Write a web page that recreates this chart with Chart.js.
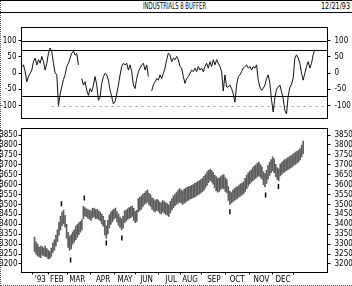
<!DOCTYPE html>
<html>
<head>
<meta charset="utf-8">
<script src="https://cdn.jsdelivr.net/npm/chart.js@4.4.0/dist/chart.umd.min.js"></script>
<style>
html, body { margin: 0; padding: 0; background: #fff; }
#wrap { position: relative; width: 352px; height: 286px; overflow: hidden; }
canvas { position: absolute; left: 0; top: 0; }
#head { position: absolute; left: 0; top: 0; width: 352px; height: 13px; box-sizing: border-box;
        border-top: 1px solid #000; border-bottom: 1px solid #000; }
#frame { position: absolute; left: 0; top: 0; width: 352px; height: 286px; box-sizing: border-box;
         border-left: 1px dotted #555; border-bottom: 1px dotted #555; }
.txt { position: absolute; font: 9px 'Liberation Sans Narrow', 'DejaVu Sans Condensed', sans-serif;
       color: #000; white-space: nowrap; line-height: 10px; transform-origin: 0 0; }
</style>
</head>
<body>
<div id="wrap">
  <div id="frame"></div>
  <div id="head"></div>
  <span class="txt" id="title" style="left:143px;top:1px;transform:scaleX(0.66)">INDUSTRIALS 8 BUFFER</span>
  <span class="txt" id="date" style="left:321px;top:1px;transform:scaleX(0.8)">12/21/93</span>
  <canvas id="osc" width="352" height="286"></canvas>
  <canvas id="price" width="352" height="286"></canvas>
</div>
<script>
// Oscillateur (panneau du haut), une valeur par position, null = coupure
const osc = [
  20, 25, 4, -27, -11, -1, 9, 35, 46, 25, 41, 30, 51, 35, 9, 30, 61, 77, 65, 30,
  -1, -4, -100, -65, -42, -20, -5, 20, 30, 46, 61, 67, 55, 60, 25, null, -17, -37, -27, -53,
  -69, -48, -58, -37, -11, -37, -84, -74, -32, -11, -1, -6, -22, -53, -74, -95, -89, -64, -37, -6,
  20, 30, 25, 30, 9, 25, 4, -37, -48, -17, 4, 15, 25, 30, 9, 25, -11, null, -55, -37,
  -27, -17, -22, -6, -17, -1, 15, 41, 61, 56, 35, 46, 41, 51, 41, 20, 15, -11, -32, -17,
  -11, -1, 9, 4, 15, 4, 20, 9, 15, 4, 20, 30, 15, 35, 20, 41, 25, 41, 30, 20,
  4, -55, -6, -43, -43, -37, -48, -64, -90, -37, -11, -6, 4, 15, 20, 25, 15, 20, 9, 20,
  15, 25, -22, -43, -53, -48, -37, -17, -6, -32, -84, -120, -75, -50, -43, -37, -58, -79, -116, -126,
  -70, -45, -35, -15, 46, 56, 46, 30, -1, -22, -1, 20, 35, 15, 30, 56, 72
];

// Plus bas / plus hauts du cours (panneau du bas)
const lows = [
  3262, 3250, 3240, 3236, 3232, 3246, 3240, 3238, 3234, 3226, 3228, 3238, 3258, 3270, 3290, 3312, 3345, 3370, 3392, 3402,
  3385, 3330, 3284, 3270, 3276, 3300, 3310, 3322, 3334, 3348, 3360, 3372, 3428, 3442, 3438, 3430, 3426, 3420, 3432, 3438,
  3428, 3430, 3424, 3418, 3402, 3390, 3346, 3330, 3352, 3382, 3400, 3412, 3424, 3432, 3412, 3396, 3384, 3372, 3380, 3408,
  3416, 3424, 3430, 3434, 3440, 3420, 3408, 3414, 3462, 3470, 3476, 3490, 3500, 3506, 3512, 3498, 3490, 3476, 3468, 3462,
  3470, 3466, 3456, 3452, 3462, 3456, 3450, 3446, 3440, 3458, 3472, 3484, 3494, 3500, 3506, 3512, 3508, 3500, 3506, 3512,
  3518, 3522, 3528, 3530, 3534, 3538, 3542, 3548, 3552, 3558, 3564, 3572, 3584, 3596, 3610, 3620, 3614, 3602, 3584, 3570,
  3562, 3566, 3576, 3582, 3578, 3566, 3558, 3520, 3500, 3508, 3514, 3520, 3526, 3530, 3538, 3542, 3548, 3554, 3566, 3580,
  3592, 3604, 3612, 3620, 3626, 3632, 3640, 3644, 3636, 3628, 3600, 3590, 3606, 3628, 3646, 3660, 3670, 3660, 3640, 3626,
  3620, 3644, 3652, 3660, 3664, 3670, 3676, 3680, 3686, 3690, 3698, 3702, 3708, 3714, 3724, 3740, 3756
];
const highs = [
  3336, 3310, 3300, 3285, 3290, 3288, 3282, 3292, 3278, 3270, 3262, 3280, 3306, 3322, 3345, 3372, 3410, 3440, 3462, 3472,
  3445, 3400, 3360, 3340, 3348, 3362, 3372, 3390, 3398, 3408, 3414, 3424, 3490, 3484, 3478, 3474, 3470, 3468, 3480, 3482,
  3474, 3476, 3468, 3462, 3452, 3440, 3420, 3392, 3420, 3448, 3462, 3470, 3476, 3482, 3464, 3452, 3436, 3428, 3440, 3468,
  3472, 3478, 3484, 3488, 3492, 3480, 3466, 3470, 3530, 3536, 3542, 3552, 3558, 3566, 3574, 3556, 3548, 3534, 3528, 3520,
  3526, 3522, 3512, 3508, 3520, 3514, 3508, 3504, 3498, 3516, 3530, 3544, 3552, 3560, 3570, 3580, 3574, 3568, 3576, 3582,
  3586, 3590, 3592, 3596, 3600, 3606, 3610, 3616, 3620, 3626, 3632, 3642, 3652, 3664, 3672, 3678, 3672, 3662, 3648, 3640,
  3632, 3634, 3640, 3648, 3650, 3636, 3626, 3590, 3566, 3560, 3572, 3580, 3586, 3590, 3598, 3604, 3608, 3614, 3632, 3648,
  3660, 3668, 3674, 3686, 3694, 3700, 3708, 3714, 3702, 3690, 3664, 3656, 3672, 3696, 3712, 3726, 3740, 3730, 3702, 3686,
  3680, 3704, 3712, 3720, 3726, 3730, 3736, 3742, 3746, 3752, 3758, 3764, 3768, 3774, 3782, 3800, 3820
];

// Repères isolés (petites marques au-dessus / au-dessous du cours)
const markerIdx = [17.6, 23.6, 32.6, 47, 57.2, 128, 151.4, 159.8];
const markerVals = [3503, 3220, 3533, 3306, 3331, 3463, 3548, 3590];

// Axe des temps
const monthLabels = ["'93", 'FEB', 'MAR', 'APR', 'MAY', 'JUN', 'JUL', 'AUG', 'SEP', 'OCT', 'NOV', 'DEC'];
const monthTicks = [3.8, 14.6, 28, 44.9, 59.3, 73.4, 89.6, 101.9, 117.5, 132.8, 148.7, 162.8];

const oscTicks = [-100, -50, 0, 50, 100];
const oscLevels = [100, 70, -70];
const oscDashed = [-100];
const priceTicks = [3200, 3250, 3300, 3350, 3400, 3450, 3500, 3550, 3600, 3650, 3700, 3750, 3800, 3850];

const font = { family: "'Liberation Sans Narrow', 'DejaVu Sans Condensed', sans-serif", size: 8 };

const boxPlugin = {
    id: 'box',
    afterDraw(chart) {
        const a = chart.chartArea, ctx = chart.ctx;
        ctx.save();
        ctx.strokeStyle = '#000';
        ctx.lineWidth = 1;
        ctx.strokeRect(a.left, a.top, a.right - a.left, a.bottom - a.top);
        ctx.restore();
    }
};

const levelsPlugin = {
    id: 'levels',
    beforeDatasetsDraw(chart) {
        const a = chart.chartArea, ctx = chart.ctx, y = chart.scales.y;
        ctx.save();
        ctx.lineWidth = 1;
        ctx.strokeStyle = '#000';
        oscLevels.forEach(v => {
            const p = Math.round(y.getPixelForValue(v)) + 0.5;
            ctx.beginPath(); ctx.moveTo(a.left, p); ctx.lineTo(a.right, p); ctx.stroke();
        });
        ctx.strokeStyle = '#999';
        ctx.setLineDash([2, 4]);
        oscDashed.forEach(v => {
            const p = Math.round(y.getPixelForValue(v)) + 0.5;
            ctx.beginPath(); ctx.moveTo(a.left + 30, p); ctx.lineTo(a.right, p); ctx.stroke();
        });
        ctx.restore();
    }
};

function sideAxis(position, ticks, min, max, width, pad) {
    return {
        type: 'linear',
        position: position,
        min: min,
        max: max,
        afterBuildTicks: s => { s.ticks = ticks.map(v => ({ value: v })); },
        afterFit: s => { s.width = width; },
        grid: { drawOnChartArea: false, color: '#000', tickLength: 3 },
        border: { color: '#000' },
        ticks: { color: '#000', font: font, padding: pad, autoSkip: false, callback: v => String(v) }
    };
}

// Panneau du haut : oscillateur
new Chart(document.getElementById('osc'), {
    type: 'line',
    data: {
        datasets: [{
            data: osc.map((v, i) => ({ x: i, y: v })),
            borderColor: '#111',
            borderWidth: 1,
            pointRadius: 0,
            spanGaps: false,
            tension: 0
        }]
    },
    options: {
        responsive: false,
        animation: false,
        devicePixelRatio: 1,
        layout: { padding: { top: 27.5, bottom: 167.5, left: 0, right: 0 } },
        plugins: { legend: { display: false }, tooltip: { enabled: false } },
        scales: {
            x: { type: 'linear', min: -0.2, max: 183.6, display: false },
            y: sideAxis('left', oscTicks, -140, 140, 21.5, 2),
            y2: sideAxis('right', oscTicks, -140, 140, 24.5, 4)
        }
    },
    plugins: [levelsPlugin, boxPlugin]
});

// Panneau du bas : barres plus haut / plus bas
new Chart(document.getElementById('price'), {
    type: 'bar',
    data: {
        datasets: [{
            type: 'bar',
            data: lows.map((l, i) => ({ x: i, y: [l, highs[i]] })),
            backgroundColor: '#5c5c5c',
            barThickness: 1,
            borderWidth: 0
        }, {
            type: 'scatter',
            data: markerIdx.map((x, k) => ({ x: x, y: markerVals[k] })),
            pointStyle: 'line',
            rotation: 90,
            radius: 2.5,
            borderWidth: 1.5,
            borderColor: '#000'
        }]
    },
    options: {
        responsive: false,
        animation: false,
        devicePixelRatio: 1,
        layout: { padding: { top: 128.5, bottom: 0, left: 0, right: 0 } },
        plugins: { legend: { display: false }, tooltip: { enabled: false } },
        scales: {
            x: {
                type: 'linear',
                min: -0.2,
                max: 183.6,
                afterBuildTicks: s => { s.ticks = monthTicks.map(v => ({ value: v })); },
                afterFit: s => { s.height = 13.5; },
                grid: { drawOnChartArea: false, color: '#000', tickLength: 2 },
                border: { color: '#000' },
                ticks: {
                    color: '#000', font: font, padding: 1, maxRotation: 0, autoSkip: false,
                    callback: (v, i) => monthLabels[i]
                }
            },
            y: sideAxis('left', priceTicks, 3157, 3883, 21.5, 1),
            y2: sideAxis('right', priceTicks, 3157, 3883, 24.5, 4)
        }
    },
    plugins: [boxPlugin]
});
</script>
</body>
</html>
